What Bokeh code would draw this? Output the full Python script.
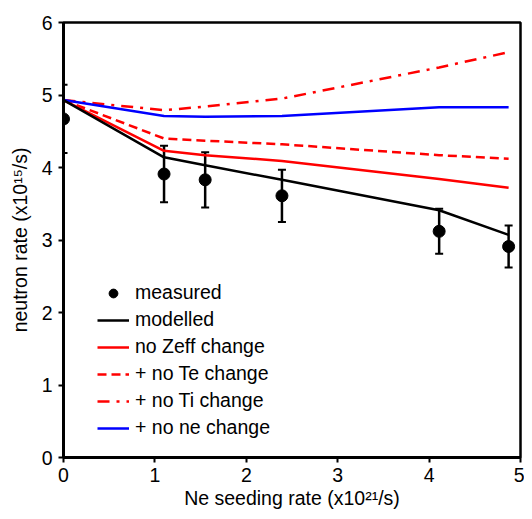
from bokeh.plotting import figure
from bokeh.models import Legend, LegendItem, Whisker, ColumnDataSource, FixedTicker, Range1d, TeeHead
from bokeh.embed import file_html
from bokeh.resources import INLINE

seeding = [0.0, 1.1, 1.55, 2.39, 4.11, 4.87]
measured = [4.67, 3.91, 3.83, 3.61, 3.12, 2.91]
meas_err = [0.47, 0.39, 0.38, 0.36, 0.31, 0.29]
modelled = [4.93, 4.14, 4.03, 3.83, 3.41, 3.07]
no_zeff = [4.93, 4.23, 4.17, 4.09, 3.84, 3.72]
no_te = [4.93, 4.40, 4.37, 4.32, 4.17, 4.12]
no_ti = [4.93, 4.79, 4.84, 4.95, 5.38, 5.59]
no_ne = [4.93, 4.71, 4.70, 4.71, 4.83, 4.83]

FONT = "Liberation Sans"

p = figure(width=524, height=511, output_backend="svg", toolbar_location=None,
           x_range=Range1d(0, 5), y_range=Range1d(0, 6),
           min_border_left=63, min_border_right=4, min_border_top=22, min_border_bottom=54)

p.xgrid.visible = False
p.ygrid.visible = False
p.outline_line_color = "black"
p.outline_line_width = 2.5
p.outline_line_alpha = 1.0

for ax in (p.xaxis[0], p.yaxis[0]):
    ax.axis_line_width = 3
    ax.axis_line_color = "black"
    ax.major_tick_line_width = 2
    ax.major_tick_line_color = "black"
    ax.major_tick_out = 5
    ax.major_tick_in = 0
    ax.minor_tick_line_color = None
    ax.major_label_text_font = FONT
    ax.major_label_text_font_size = "19.5px"
    ax.major_label_text_color = "black"
    ax.axis_label_text_font = FONT
    ax.axis_label_text_font_size = "19.5px"
    ax.axis_label_text_font_style = "normal"
    ax.axis_label_text_color = "black"

p.xaxis.ticker = FixedTicker(ticks=[0, 1, 2, 3, 4, 5])
p.yaxis.ticker = FixedTicker(ticks=[0, 1, 2, 3, 4, 5, 6])
p.xaxis.axis_label = "Ne seeding rate (x10\u00b2\u00b9/s)"
p.yaxis.axis_label = "neutron rate (x10\u00b9\u2075/s)"
p.xaxis.major_label_standoff = 5
p.xaxis.axis_label_standoff = 2
p.yaxis.major_label_standoff = 6
p.yaxis.axis_label_standoff = 8

src = ColumnDataSource(dict(x=seeding, y=measured,
                            lo=[m - e for m, e in zip(measured, meas_err)],
                            hi=[m + e for m, e in zip(measured, meas_err)]))

r_no_ti = p.line(seeding, no_ti, line_color="#ff0000", line_width=2.5, line_dash="12 7 3 7")
r_no_te = p.line(seeding, no_te, line_color="#ff0000", line_width=2.5, line_dash="9 5")
r_no_zeff = p.line(seeding, no_zeff, line_color="#ff0000", line_width=2.5)
r_no_ne = p.line(seeding, no_ne, line_color="#0000ff", line_width=2.5)
r_mod = p.line(seeding, modelled, line_color="black", line_width=2.5)

wh = Whisker(base="x", upper="hi", lower="lo", source=src,
             line_color="black", line_width=2.5,
             upper_head=TeeHead(size=8, line_color="black", line_width=2),
             lower_head=TeeHead(size=8, line_color="black", line_width=2))
p.add_layout(wh)
r_meas = p.scatter("x", "y", source=src, size=12, color="black")

legend = Legend(items=[
    LegendItem(label="measured", renderers=[r_meas]),
    LegendItem(label="modelled", renderers=[r_mod]),
    LegendItem(label="no Zeff change", renderers=[r_no_zeff]),
    LegendItem(label="+ no Te change", renderers=[r_no_te]),
    LegendItem(label="+ no Ti change", renderers=[r_no_ti]),
    LegendItem(label="+ no ne change", renderers=[r_no_ne]),
], location=(34, 18))
legend.background_fill_alpha = 0
legend.border_line_color = None
legend.label_text_font = FONT
legend.label_text_font_size = "19.5px"
legend.label_text_color = "black"
legend.glyph_width = 32
legend.glyph_height = 22
legend.label_height = 22
legend.spacing = 4
legend.label_standoff = 6
legend.padding = 6
p.add_layout(legend)

open("out.html", "w").write(file_html(p, INLINE))
